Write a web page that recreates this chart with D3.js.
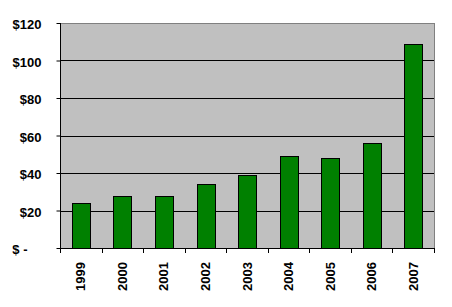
<!DOCTYPE html>
<html>
<head>
<meta charset="utf-8">
<script src="https://cdn.jsdelivr.net/npm/d3@7"></script>
<style>
  html, body { margin: 0; padding: 0; background: #fff; }
  svg { display: block; }
  text { font-family: "Liberation Sans", Arial, sans-serif; font-weight: bold; fill: #000; }
</style>
</head>
<body>
<div id="chart"></div>
<script>
// -- data --
const years = ['1999', '2000', '2001', '2002', '2003', '2004', '2005', '2006', '2007'];
const values = [24, 28, 27.5, 34, 39, 49, 48, 56, 109];
const yTicks = [0, 20, 40, 60, 80, 100, 120];

const width = 452, height = 307;
const plot = { left: 60, right: 434, top: 23, bottom: 248 };

const svg = d3.select('#chart').append('svg')
  .attr('width', width)
  .attr('height', height);

const x = d3.scaleBand()
  .domain(years)
  .range([plot.left, plot.right])
  .paddingInner(0.57)
  .paddingOuter(0.285);

const y = d3.scaleLinear()
  .domain([0, 120])
  .range([plot.bottom, plot.top]);

// plot area
svg.append('rect')
  .attr('x', plot.left)
  .attr('y', plot.top)
  .attr('width', plot.right - plot.left)
  .attr('height', plot.bottom - plot.top)
  .attr('fill', '#c0c0c0')
  .attr('stroke', '#808080')
  .attr('stroke-width', 1)
  .attr('shape-rendering', 'crispEdges');

// gridlines
svg.append('g')
  .selectAll('line')
  .data(yTicks.filter(d => d > 0 && d < 120))
  .enter().append('line')
  .attr('x1', plot.left).attr('x2', plot.right)
  .attr('y1', d => Math.round(y(d)) + 0.5).attr('y2', d => Math.round(y(d)) + 0.5)
  .attr('stroke', '#000')
  .attr('stroke-width', 1);

// bars
svg.append('g')
  .selectAll('rect')
  .data(values)
  .enter().append('rect')
  .attr('x', (d, i) => Math.round(x(years[i])) + 0.5)
  .attr('y', d => Math.round(y(d)) + 0.5)
  .attr('width', Math.round(x.bandwidth()))
  .attr('height', d => Math.round(y(0)) - Math.round(y(d)))
  .attr('fill', '#008000')
  .attr('stroke', '#000')
  .attr('stroke-width', 1);

// y axis
const yAxis = svg.append('g')
  .attr('transform', `translate(${plot.left + 0.5},0)`)
  .call(d3.axisLeft(y)
    .tickValues(yTicks)
    .tickSize(4)
    .tickPadding(15)
    .tickFormat(d => d === 0 ? '$ -' : '$' + d));
yAxis.select('.domain').attr('stroke', '#000').attr('d', `M0,${plot.top}V${plot.bottom}`);
yAxis.selectAll('.tick line').attr('stroke', '#000');
yAxis.selectAll('.tick text')
  .attr('font-size', 13)
  .attr('font-family', '"Liberation Sans", Arial, sans-serif')
  .attr('font-weight', 'bold')
  .attr('fill', '#000')
  .attr('dy', '0.45em')
  .attr('x', d => d === 0 ? -33 : -19);

// x axis: tick marks at category boundaries
const xg = svg.append('g');
xg.append('line')
  .attr('x1', plot.left).attr('x2', plot.right)
  .attr('y1', plot.bottom + 0.5).attr('y2', plot.bottom + 0.5)
  .attr('stroke', '#000');
xg.selectAll('line.tk')
  .data(d3.range(years.length + 1))
  .enter().append('line')
  .attr('class', 'tk')
  .attr('x1', i => Math.round(plot.left + x.step() * i) + 0.5)
  .attr('x2', i => Math.round(plot.left + x.step() * i) + 0.5)
  .attr('y1', plot.bottom)
  .attr('y2', plot.bottom + 5)
  .attr('stroke', '#000');

xg.selectAll('text')
  .data(years)
  .enter().append('text')
  .attr('transform', d => `translate(${x(d) + x.bandwidth() / 2},262) rotate(-90)`)
  .attr('text-anchor', 'end')
  .attr('dy', '0.35em')
  .attr('font-size', 13)
  .text(d => d);
</script>
</body>
</html>
